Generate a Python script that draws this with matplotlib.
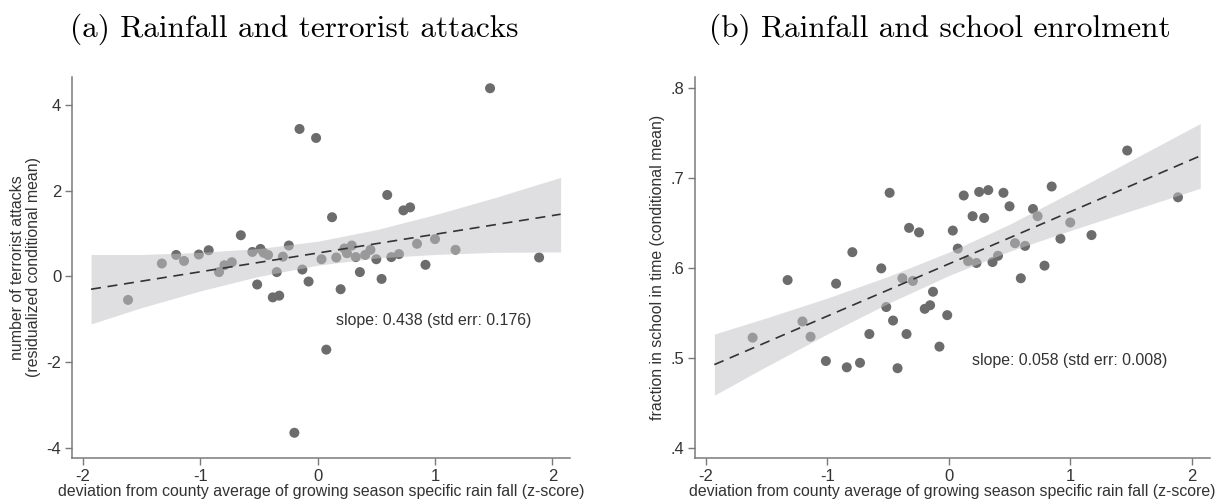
import matplotlib
matplotlib.use('Agg')
import matplotlib.pyplot as plt
import numpy as np

# rainfall deviation (z-score), shared by both panels
rain_dev = [-1.615, -1.327, -1.205, -1.138, -1.012, -0.928, -0.840, -0.794, -0.731, -0.654,
            -0.556, -0.515, -0.487, -0.459, -0.422, -0.382, -0.348, -0.327, -0.296, -0.245,
            -0.198, -0.154, -0.130, -0.077, -0.013, 0.033, 0.074, 0.123, 0.159, 0.196,
            0.228, 0.250, 0.291, 0.325, 0.360, 0.405, 0.450, 0.500, 0.545, 0.593,
            0.628, 0.693, 0.731, 0.788, 0.847, 0.919, 1.000, 1.175, 1.469, 1.887]

# panel (a): terrorist attacks (residualized conditional mean)
attacks = [-0.55, 0.30, 0.50, 0.36, 0.51, 0.61, 0.10, 0.26, 0.33, 0.96,
           0.57, -0.19, 0.64, 0.55, 0.50, -0.49, 0.10, -0.45, 0.46, 0.72,
           -3.65, 3.44, 0.16, -0.12, 3.23, 0.40, -1.71, 1.38, 0.44, -0.30,
           0.65, 0.54, 0.72, 0.45, 0.10, 0.50, 0.62, 0.40, -0.06, 1.90,
           0.45, 0.52, 1.54, 1.61, 0.76, 0.27, 0.87, 0.62, 4.39, 0.44]

# panel (b): fraction in school in time (conditional mean)
school = [0.523, 0.587, 0.541, 0.524, 0.497, 0.583, 0.490, 0.618, 0.495, 0.527,
          0.600, 0.557, 0.684, 0.542, 0.489, 0.589, 0.527, 0.645, 0.586, 0.640,
          0.555, 0.559, 0.574, 0.513, 0.548, 0.642, 0.622, 0.681, 0.608, 0.658,
          0.606, 0.685, 0.656, 0.687, 0.607, 0.614, 0.684, 0.669, 0.628, 0.589,
          0.625, 0.666, 0.658, 0.603, 0.691, 0.633, 0.651, 0.637, 0.731, 0.679]

# fitted lines and confidence bands
fit_x = [-1.93, 2.07]
fit_a = [-0.30, 1.45]
fit_b = [0.493, 0.725]

band_x = [-1.93, -1.5, -1.0, -0.5, 0.0, 0.5, 1.0, 1.5, 2.07]
band_a_hi = [0.51, 0.51, 0.56, 0.65, 0.82, 1.09, 1.44, 1.83, 2.31]
band_a_lo = [-1.11, -0.73, -0.34, 0.00, 0.26, 0.43, 0.51, 0.56, 0.57]
band_b_hi = [0.527, 0.545, 0.567, 0.591, 0.618, 0.649, 0.684, 0.720, 0.761]
band_b_lo = [0.459, 0.491, 0.527, 0.561, 0.592, 0.619, 0.642, 0.664, 0.689]

titles = ['(a) Rainfall and terrorist attacks', '(b) Rainfall and school enrolment']
slope_txt = ['slope: 0.438 (std err: 0.176)', 'slope: 0.058 (std err: 0.008)']
xlab = 'deviation from county average of growing season specific rain fall (z-score)'

plt.rcParams['font.family'] = ['Liberation Sans', 'DejaVu Sans']
fs = 11.4

fig = plt.figure(figsize=(12.25, 5.04), dpi=100)
ax1 = fig.add_axes([0.059, 0.092, 0.4063, 0.755])
ax2 = fig.add_axes([0.5673, 0.092, 0.4204, 0.755])

def draw_panel(ax, y, fit_y, hi, lo):
    ax.scatter(rain_dev, y, s=52, color='#6c6c6c', edgecolors='none', zorder=2)
    ax.fill_between(band_x, lo, hi, color='#c3c3c6', alpha=0.52, linewidth=0, zorder=3)
    ax.plot(fit_x, fit_y, color='#333333', linestyle=(0, (6, 4)), linewidth=1.2, zorder=4)
    for s in ['top', 'right']:
        ax.spines[s].set_visible(False)
    for s in ['left', 'bottom']:
        ax.spines[s].set_color('#7a7a7a')
        ax.spines[s].set_linewidth(1.1)
    ax.tick_params(direction='out', length=5, width=1, color='#7a7a7a',
                   labelsize=12, labelcolor='#333333', pad=3)
    ax.set_xticks([-2, -1, 0, 1, 2])
    ax.set_xticklabels(['-2', '-1', '0', '1', '2'])
    ax.set_xlim(-2.09, 2.15)
    ax.set_xlabel(xlab, fontsize=fs, color='#333333', labelpad=0.5)

draw_panel(ax1, attacks, fit_a, band_a_hi, band_a_lo)
ax1.set_ylim(-4.23, 4.65)
ax1.set_yticks([-4, -2, 0, 2, 4])
ax1.set_yticklabels(['-4', '-2', '0', '2', '4'])
ax1.set_ylabel('number of terrorist attacks\n(residualized conditional mean)',
               fontsize=fs, color='#333333', labelpad=4, linespacing=1.05)
ax1.text(0.16, -1.03, slope_txt[0], fontsize=fs, color='#333333', va='center')

draw_panel(ax2, school, fit_b, band_b_hi, band_b_lo)
ax2.set_ylim(0.3896, 0.8126)
ax2.set_yticks([0.4, 0.5, 0.6, 0.7, 0.8])
ax2.set_yticklabels(['.4', '.5', '.6', '.7', '.8'])
ax2.set_ylabel('fraction in school in time (conditional mean)',
               fontsize=fs, color='#333333', labelpad=4)
ax2.text(0.19, 0.498, slope_txt[1], fontsize=fs, color='#333333', va='center')

fig.text(294 / 1225, 1 - 29 / 504, titles[0], fontfamily='cmr10', fontsize=22.5,
         ha='center', va='center')
fig.text(940 / 1225, 1 - 29 / 504, titles[1], fontfamily='cmr10', fontsize=22.5,
         ha='center', va='center')

fig.savefig('out.png', dpi=100)
